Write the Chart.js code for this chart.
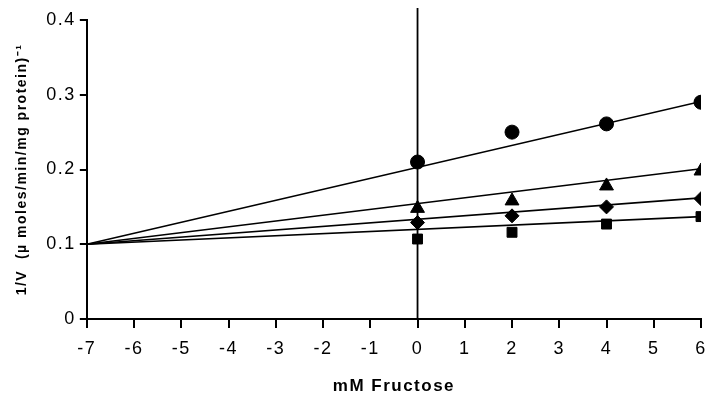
<!DOCTYPE html>
<html>
<head>
<meta charset="utf-8">
<script src="https://cdn.jsdelivr.net/npm/chart.js@4/dist/chart.umd.min.js"></script>
<style>
  html, body { margin: 0; padding: 0; background: #fff; }
  #wrap { width: 710px; height: 403px; }
</style>
</head>
<body>
<div id="wrap"><canvas id="c" width="710" height="403"></canvas></div>
<script>
// ---- data ----
const xValues = [0, 2, 4, 6];
const circles   = [0.210, 0.250, 0.261, 0.290];
const triangles = [0.148, 0.158, 0.178, 0.198];
const diamonds  = [0.129, 0.138, 0.150, 0.161];
const squares   = [0.107, 0.116, 0.127, 0.137];

const lineX = [-7, 6];
const circleLine   = [0.100, 0.291];
const triangleLine = [0.100, 0.201];
const diamondLine  = [0.100, 0.162];
const squareLine   = [0.100, 0.137];

const xTicks = [-7, -6, -5, -4, -3, -2, -1, 0, 1, 2, 3, 4, 5, 6];
const yTicks = [0, 0.1, 0.2, 0.3, 0.4];

function pts(xs, ys) { return xs.map((x, i) => ({ x: x, y: ys[i] })); }

function lineDs(ys) {
  return { type: 'line', data: pts(lineX, ys), borderColor: '#000', borderWidth: 1.6,
           pointRadius: 0, fill: false, tension: 0, order: 2 };
}
function markDs(ys, style, r) {
  return { type: 'scatter', data: pts(xValues, ys), pointStyle: style, pointRadius: r,
           backgroundColor: '#000', borderColor: '#000', borderWidth: 1, order: 1 };
}

const spacing = {
  id: 'spacing',
  beforeInit(chart) { chart.ctx.letterSpacing = '1.5px'; },
  beforeDraw(chart) { chart.ctx.letterSpacing = '1.5px'; }
};

const vLine = {
  id: 'vLine',
  beforeDatasetsDraw(chart) {
    const { ctx, scales } = chart;
    const x = scales.x.getPixelForValue(0);
    ctx.save();
    ctx.strokeStyle = '#000';
    ctx.lineWidth = 1.8;
    ctx.beginPath();
    ctx.moveTo(x, chart.chartArea.top - 12);
    ctx.lineTo(x, scales.y.getPixelForValue(0));
    ctx.stroke();
    ctx.restore();
  }
};

const font = 'Liberation Sans, Arial, sans-serif';

new Chart(document.getElementById('c'), {
  data: {
    datasets: [
      lineDs(circleLine), lineDs(triangleLine), lineDs(diamondLine), lineDs(squareLine),
      markDs(circles, 'circle', 7),
      markDs(triangles, 'triangle', 8),
      markDs(diamonds, 'rectRot', 7),
      markDs(squares, 'rect', 7)
    ]
  },
  options: {
    responsive: false,
    animation: false,
    layout: { padding: { left: 10, top: 20, right: 6, bottom: 2 } },
    plugins: { legend: { display: false }, tooltip: { enabled: false } },
    scales: {
      x: {
        type: 'linear', min: -7, max: 6,
        afterBuildTicks: s => { s.ticks = xTicks.map(v => ({ value: v })); },
        afterFit: s => { s.paddingRight = 1; },
        ticks: { color: '#000', font: { family: font, size: 18 }, padding: 10, maxRotation: 0 },
        grid: { drawOnChartArea: false, tickLength: 9, color: '#000', lineWidth: 2 },
        border: { color: '#000', width: 2 },
        title: { display: true, text: 'mM Fructose', color: '#000',
                 font: { family: font, size: 17, weight: 'bold' }, padding: { top: 7 } }
      },
      y: {
        type: 'linear', min: 0, max: 0.4,
        afterBuildTicks: s => { s.ticks = yTicks.map(v => ({ value: v })); },
        ticks: { color: '#000', font: { family: font, size: 18 }, padding: 4,
                 callback: v => v === 0 ? '0' : v.toFixed(1) },
        grid: { drawOnChartArea: false, tickLength: 7, color: '#000', lineWidth: 2 },
        border: { color: '#000', width: 2 },
        title: { display: true, text: '1/V  (\u00b5 moles/min/mg protein)\u207b\u00b9', color: '#000',
                 font: { family: font, size: 14, weight: 'bold' }, padding: { bottom: 16 } }
      }
    }
  },
  plugins: [spacing, vLine]
});
</script>
</body>
</html>
